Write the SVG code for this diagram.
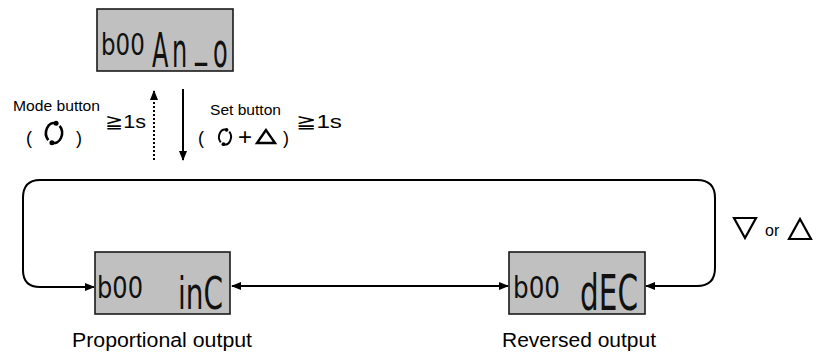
<svg xmlns="http://www.w3.org/2000/svg" width="826" height="353" viewBox="0 0 826 353">
<defs>
<style>
.lcd{fill:#c0c0c0;stroke:#1a1a1a;stroke-width:1.6}
.seg{font-family:"DejaVu Sans",sans-serif;fill:#111}
.lbl{font-family:"Liberation Sans",Arial,sans-serif;fill:#000}
.ln{fill:none;stroke:#000;stroke-width:2}
.ic{fill:none;stroke:#000;stroke-width:2.6}
</style>
<marker id="ah" markerWidth="10" markerHeight="10" refX="9" refY="5" orient="auto" markerUnits="userSpaceOnUse">
<path d="M0,1 L10,5 L0,9 Z" fill="#000"/>
</marker>
<marker id="ahs" markerWidth="10" markerHeight="10" refX="9" refY="5" orient="auto-start-reverse" markerUnits="userSpaceOnUse">
<path d="M0,1 L10,5 L0,9 Z" fill="#000"/>
</marker>
<g id="rot">
<path class="ic" d="M2.07,-9.66 A8,10 0 0 0 -5.66,7.07"/>
<path class="ic" d="M-2.07,9.66 A8,10 0 0 0 5.66,-7.07"/>
<circle cx="2.07" cy="-9.66" r="2.5" fill="#000"/>
<circle cx="-2.07" cy="9.66" r="2.5" fill="#000"/>
</g>
</defs>
<rect width="826" height="353" fill="#fff"/>

<g id="connectors">
<path class="ln" d="M178,180 L40,180 Q23,180 23,198 L23,270 Q23,287 40,287 L94,287" marker-end="url(#ah)"/>
<path class="ln" d="M170,180 L697,180 Q715,180 715,198 L715,268 Q715,286 697,286 L646,286" marker-end="url(#ah)"/>
<path class="ln" d="M232,286 L508,286" marker-start="url(#ahs)" marker-end="url(#ahs)"/>
<path class="ln" d="M154,160 L154,91" stroke-dasharray="2,2" marker-end="url(#ah)"/>
<path class="ln" d="M183,89 L183,160" marker-end="url(#ah)"/>
</g>

<g id="top-display">
<rect class="lcd" x="97" y="9" width="136" height="62"/>
<text class="seg" transform="scale(0.74,1)" x="136.5" y="55" font-size="31">b00</text>
<text class="seg" transform="scale(0.5,1)" x="304 344" y="67" font-size="48">An<tspan x="390" dy="-12">_</tspan><tspan x="426" dy="12">o</tspan></text>
</g>

<g id="mode-label">
<text class="lbl" x="13" y="111" font-size="15.5" textLength="87" lengthAdjust="spacingAndGlyphs">Mode button</text>
<text class="lbl" x="26" y="144" font-size="18">(</text>
<use href="#rot" x="54" y="133"/>
<text class="lbl" x="76" y="144" font-size="18">)</text>
<text class="lbl" x="105" y="128" font-size="19" textLength="41" lengthAdjust="spacingAndGlyphs">≧1s</text>
</g>

<g id="set-label">
<text class="lbl" x="210" y="115" font-size="15.5" textLength="71" lengthAdjust="spacingAndGlyphs">Set button</text>
<text class="lbl" x="198" y="144" font-size="18">(</text>
<use href="#rot" x="225" y="137" transform="translate(225,137) scale(0.75) translate(-225,-137)"/>
<text class="lbl" x="238" y="145" font-size="24">+</text>
<polygon points="266,130 257,143 275,143" fill="none" stroke="#000" stroke-width="2.4"/>
<text class="lbl" x="283" y="144" font-size="18">)</text>
<text class="lbl" x="296" y="128" font-size="19" textLength="46" lengthAdjust="spacingAndGlyphs">≧1s</text>
</g>

<g id="key-label">
<polygon points="734,218 756,218 745,238" fill="none" stroke="#000" stroke-width="2.2"/>
<text class="lbl" x="765" y="236" font-size="16">or</text>
<polygon points="789,239 811,239 800,219" fill="none" stroke="#000" stroke-width="2.2"/>
</g>

<g id="proportional">
<rect class="lcd" x="95" y="252" width="135" height="62"/>
<text class="seg" x="97" y="298" font-size="30" textLength="46" lengthAdjust="spacingAndGlyphs">b00</text>
<text class="seg" x="178" y="309" font-size="45" textLength="45" lengthAdjust="spacingAndGlyphs">inC</text>
<text class="lbl" x="72" y="347" font-size="20" textLength="180" lengthAdjust="spacingAndGlyphs">Proportional output</text>
</g>

<g id="reversed">
<rect class="lcd" x="509" y="252" width="136" height="62"/>
<text class="seg" x="513" y="298" font-size="30" textLength="47" lengthAdjust="spacingAndGlyphs">b00</text>
<text class="seg" x="580" y="310" font-size="50" textLength="58" lengthAdjust="spacingAndGlyphs">dEC</text>
<text class="lbl" x="502" y="347" font-size="20" textLength="154" lengthAdjust="spacingAndGlyphs">Reversed output</text>
</g>
</svg>
